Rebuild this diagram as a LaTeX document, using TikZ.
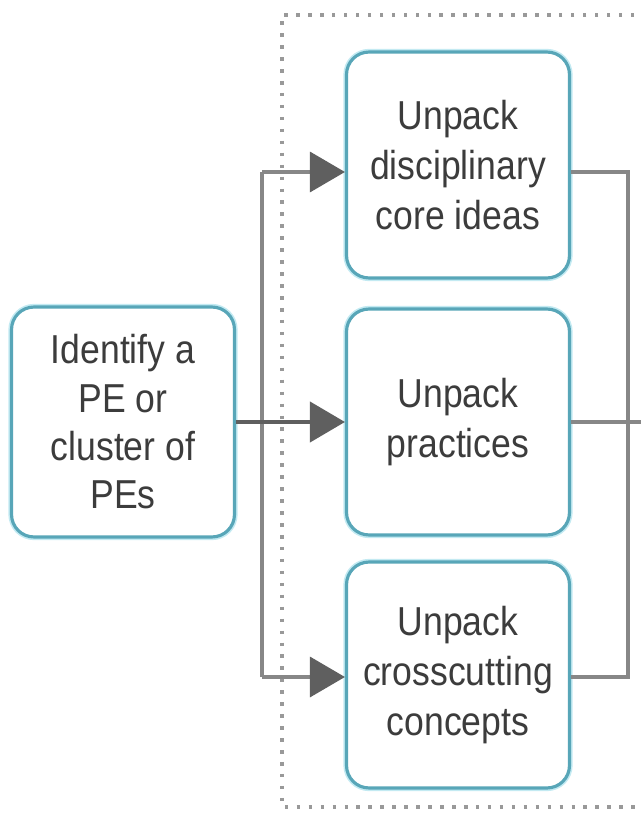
\documentclass[tikz,border=0pt]{standalone}
\usepackage{fontspec}
\setmainfont{Liberation Sans}[FakeStretch=0.88]
\usetikzlibrary{arrows.meta}

\definecolor{boxteal}{RGB}{88,166,184}
\definecolor{boxglow}{RGB}{195,234,242}
\definecolor{linegray}{RGB}{135,135,135}
\definecolor{arrowgray}{RGB}{95,95,95}
\definecolor{textgray}{RGB}{60,60,60}

\tikzset{
  stepbox/.style={draw=boxteal, line width=1.8pt, rounded corners=0.45cm, fill=white,
    align=center, text=textgray, font=\fontsize{23}{28.5}\selectfont,
    minimum width=4.46cm, minimum height=4.52cm, inner sep=0pt,
    preaction={draw=boxglow, line width=3.6pt}},
  branch/.style={draw=linegray, line width=1.9pt},
  tip/.style={-{Triangle[length=0.7cm,width=0.8cm,color=arrowgray]}}
}

\begin{document}
\begin{tikzpicture}[x=0.02cm,y=-0.02cm]
\useasboundingbox (0,0) rectangle (641,820);

% dotted frame round the three unpack steps
\draw[gray!80, line width=2.1pt, dash pattern=on 2pt off 4.8pt] (670,15) -- (282,15) -- (282,807) -- (670,807);

\coordinate (jt) at (262,172);
\coordinate (jb) at (262,677);
\coordinate (rt) at (628,172);
\coordinate (rb) at (628,677);
\coordinate (out) at (680,422);

\node[stepbox] (dci) at (458,165) {Unpack\\disciplinary\\core ideas};
\node[stepbox] (sep) at (458,422) {Unpack\\practices};
\node[stepbox] (ccc) at (458,675) {Unpack\\crosscutting\\concepts};
\node[stepbox, minimum height=4.6cm, font=\fontsize{23}{27.5}\selectfont] (pe) at (123,422) {Identify a\\PE or\\cluster of\\PEs};

% branches into the steps
\draw[branch] (jt) -- (jb);
\draw[branch, tip] (jt) -- (jt -| dci.west);
\draw[branch, tip] (jb) -- (jb -| ccc.west);
\draw[draw=arrowgray, line width=2.4pt, tip] (pe) -- (sep);

% joining lines on the right
\draw[branch] (dci.east |- rt) -- (rt) -- (rb) -- (ccc.east |- rb);
\draw[branch] (sep) -- (out);

\end{tikzpicture}
\end{document}
